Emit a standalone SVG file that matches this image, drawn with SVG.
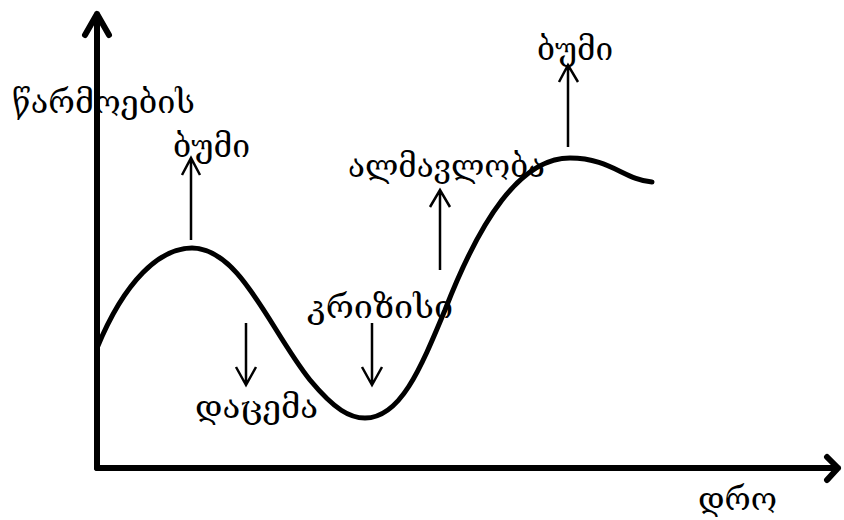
<svg xmlns="http://www.w3.org/2000/svg" width="844" height="520" viewBox="0 0 844 520">
<style>
.axis{stroke:#000;stroke-width:6;fill:none;stroke-linecap:round;stroke-linejoin:round}
.curve{stroke:#000;stroke-width:5;fill:none;stroke-linecap:round}
.arr{stroke:#000;stroke-width:2.5;fill:none}
.lbl{font-family:"DejaVu Serif","DejaVu Sans",serif;font-size:31px;fill:#000}
</style>
<rect width="844" height="520" fill="#fff"/>
<g id="axes">
<path class="axis" d="M97,468 V14 M85,35 L97,14 L109,35"/>
<path class="axis" d="M97,468 H838 M827,457 L838,468 L827,480"/>
</g>
<g id="curve">
<path class="curve" d="M97,348 C125,280 160,248 192,248 C240,248 270,330 310,380 C335,410 350,418 365,418 C400,418 420,370 445,310 C480,220 520,158 570,158 C610,158 625,180 652,182"/>
</g>
<g id="connectors">
<path class="arr" d="M191,240 V158 M182,175 L191,158 L200,175"/>
<path class="arr" d="M246,323 V385 M236,367 L246,385 L256,367"/>
<path class="arr" d="M372,323 V385 M362,367 L372,385 L382,367"/>
<path class="arr" d="M440,270 V190 M430,207 L440,190 L450,207"/>
<path class="arr" d="M568,147 V65 M559,82 L568,65 L578,82"/>
</g>
<g id="labels">
<text class="lbl" x="12" y="113" textLength="183" lengthAdjust="spacingAndGlyphs">წარმოების</text>
<text class="lbl" x="173" y="157" textLength="77" lengthAdjust="spacingAndGlyphs">ბუმი</text>
<text class="lbl" x="537" y="60" textLength="76" lengthAdjust="spacingAndGlyphs">ბუმი</text>
<text class="lbl" x="348" y="177" textLength="197" lengthAdjust="spacingAndGlyphs">ალმავლობა</text>
<text class="lbl" x="307" y="318" textLength="146" lengthAdjust="spacingAndGlyphs">კრიზისი</text>
<text class="lbl" x="195" y="418" textLength="123" lengthAdjust="spacingAndGlyphs">დაცემა</text>
<text class="lbl" x="698" y="510" textLength="79" lengthAdjust="spacingAndGlyphs">დრო</text>
</g>
</svg>
